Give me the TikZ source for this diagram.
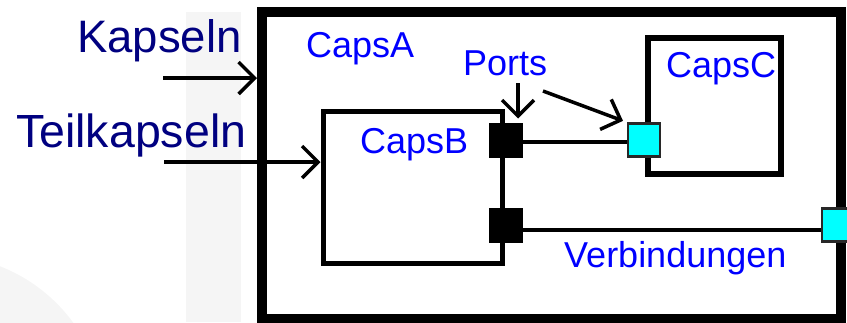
\documentclass[tikz,border=0pt]{standalone}
\usepackage{fontspec}
\setmainfont{Liberation Sans}
\usetikzlibrary{arrows.meta,calc}
\definecolor{navy}{RGB}{0,0,128}
\definecolor{lblue}{RGB}{0,0,255}
\definecolor{portcyan}{RGB}{0,255,255}
\definecolor{bggray}{RGB}{245,245,245}
\definecolor{portedge}{RGB}{40,40,40}
\begin{document}
\begin{tikzpicture}[x=1pt,y=-1pt,
  capsbox/.style={draw=black, rectangle, inner sep=0pt},
  bigtext/.style={text=navy, inner sep=0pt, anchor=base west},
  lbl/.style={text=lblue, font=\fontsize{36}{43}\selectfont, inner sep=0pt, anchor=base west},
  blackport/.style={draw=black, fill=black, line width=1pt, minimum width=33pt, minimum height=34pt, inner sep=0pt},
  cyanport/.style={draw=portedge, fill=portcyan, line width=2.5pt, minimum width=32pt, minimum height=33pt, inner sep=0pt},
  arr/.style={line width=3.5pt, -{Straight Barb[length=16pt, width=32pt, line width=3.5pt]}},
  conn/.style={line width=4pt},
]
\useasboundingbox (0,0) rectangle (847,322);
% faint background shapes
\begin{scope}
  \clip (0,0) rectangle (847,322);
  \fill[bggray] (186,12) rectangle (241,322);
  \fill[bggray] (-60,420) circle (165);
\end{scope}

% capsules
\node[capsbox, line width=10pt, minimum width=579pt, minimum height=307pt] (capsA) at (551.5,165) {};
\node[capsbox, line width=5pt, minimum width=179pt, minimum height=152pt] (capsB) at (412.5,187) {};
\node[capsbox, line width=5.5pt, minimum width=133pt, minimum height=136pt] (capsC) at (714.5,106) {};

% ports
\node[blackport] (p1) at (506,140) {};
\node[cyanport] (c1) at (644,140) {};
\node[blackport] (p2) at (506,225) {};
\node[cyanport] (c2) at (838,225) {};

% connections
\draw[conn] ($(p1.east)+(0,2)$) -- ($(c1.west)+(0,2)$);
\draw[conn] ($(p2.east)+(0,5)$) -- ($(c2.west)+(0,5)$);

% labels
\node[bigtext, font=\fontsize{45.5}{54}\selectfont] (kap) at (77,52) {Kapseln};
\node[bigtext, font=\fontsize{46.5}{56}\selectfont] (teil) at (16,147) {Teilkapseln};
\node[lbl] (la) at (306,57) {CapsA};
\node[lbl] (lb) at (360,153) {CapsB};
\node[lbl] (lc) at (666,77) {CapsC};
\node[lbl] (lp) at (463,75) {Ports};
\node[lbl] (lv) at (564,267) {Verbindungen};

% arrows
\coordinate (k0) at (163,78);
\draw[arr] (k0) -- (k0 -| capsA.west);
\coordinate (t0) at (164,162);
\draw[arr] (t0) -- (t0 -| capsB.west);
\coordinate (pa) at (518,83);
\draw[arr, shorten >=4pt] (pa) -- (pa |- p1.north);
\coordinate (pb) at (543,91);
\draw[arr, shorten >=4pt] (pb) -- (c1.north west);
\end{tikzpicture}
\end{document}
